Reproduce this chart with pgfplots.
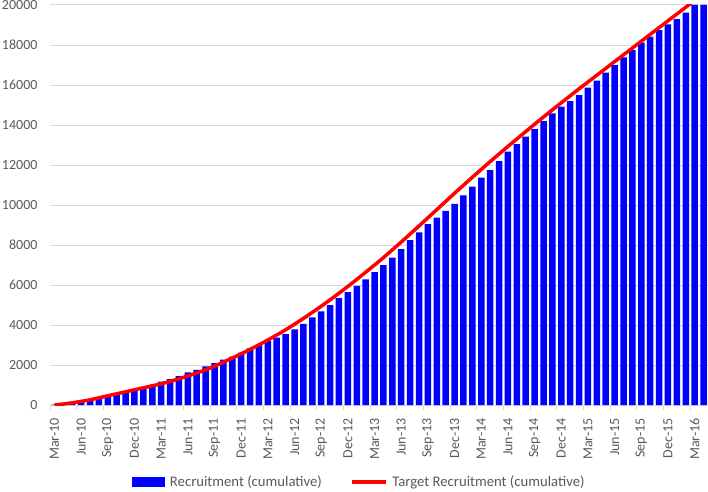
\documentclass[border=0pt]{standalone}
\usepackage{pgfplots}
\pgfplotsset{compat=1.18}
\usepackage{pgfplotstable}
\usepackage{fontspec}
\setmainfont{Carlito}
\usetikzlibrary{calc}
\definecolor{tickgray}{HTML}{595959}
\definecolor{gridgray}{HTML}{D9D9D9}
\definecolor{barblue}{RGB}{0,0,255}
\definecolor{linered}{RGB}{255,0,0}

\pgfplotstableread{
i rec target
0 20 0
1 60 50
2 110 110
3 210 180
4 300 260
5 380 360
6 480 460
7 560 560
8 680 660
9 750 760
10 840 860
11 940 960
12 1170 1060
13 1300 1180
14 1450 1310
15 1630 1450
16 1760 1600
17 1930 1760
18 2100 1940
19 2270 2140
20 2420 2350
21 2620 2560
22 2830 2780
23 3020 3010
24 3200 3250
25 3370 3500
26 3540 3760
27 3780 4040
28 4060 4330
29 4380 4630
30 4680 4940
31 5000 5260
32 5340 5590
33 5650 5930
34 5960 6280
35 6280 6640
36 6640 7000
37 6990 7370
38 7370 7760
39 7800 8150
40 8250 8550
41 8630 8950
42 9040 9360
43 9370 9770
44 9710 10180
45 10060 10590
46 10480 10990
47 10920 11390
48 11370 11780
49 11750 12170
50 12200 12550
51 12670 12930
52 13050 13300
53 13420 13670
54 13800 14040
55 14200 14400
56 14580 14760
57 14920 15110
58 15200 15460
59 15500 15810
60 15870 16150
61 16220 16490
62 16620 16830
63 17000 17170
64 17380 17510
65 17750 17850
66 18120 18190
67 18420 18530
68 18750 18870
69 19030 19210
70 19300 19550
71 19620 19890
72 20000 20230
73 20000 20570
}\data

\begin{document}
\begin{tikzpicture}
\begin{axis}[
  name=ax,
  scale only axis, width=658pt, height=400pt,
  xmin=-0.5, xmax=73.5, ymin=0, ymax=20000,
  axis line style={draw=none},
  ytick={0,2000,...,20000},
  ymajorgrids, grid style={gridgray, line width=1pt},
  scaled y ticks=false,
  /pgf/number format/1000 sep={},
  /pgf/number format/assume math mode=true,
  yticklabel style={text=tickgray, font=\fontsize{14}{16}\selectfont, xshift=-9pt},
  xtick={0,3,...,72},
  xticklabels={Mar-10,Jun-10,Sep-10,Dec-10,Mar-11,Jun-11,Sep-11,Dec-11,Mar-12,Jun-12,Sep-12,Dec-12,Mar-13,Jun-13,Sep-13,Dec-13,Mar-14,Jun-14,Sep-14,Dec-14,Mar-15,Jun-15,Sep-15,Dec-15,Mar-16},
  xticklabel style={rotate=90, anchor=east, inner xsep=13pt, text=tickgray, font=\fontsize{14}{16}\selectfont},
  minor xtick={-0.5,2.5,...,72},
  xtick pos=bottom, ytick pos=left,
  tick align=outside,
  major tick length=0pt,
  minor tick length=5pt,
  minor tick style={gridgray, line width=1pt},
  legend columns=2,
  legend style={at={(0.47,-0.193)}, anchor=center, draw=none, fill=none,
    font=\fontsize{14.7}{16}\selectfont, text=tickgray,
    /tikz/every odd column/.append style={column sep=3pt},
    /tikz/every even column/.append style={column sep=26pt}},
]
\addplot[ybar, bar width=6.5pt, fill=barblue, draw=none,
  legend image code/.code={\fill[barblue] (0pt,-5pt) rectangle (33pt,5pt);}]
  table[x=i, y=rec] {\data};
\addlegendentry{Recruitment (cumulative)}
\addplot[linered, line width=3.5pt, no marks, line join=round, smooth,
  legend image code/.code={\draw[linered, line width=3.5pt] (0pt,0pt) -- (34pt,0pt);}]
  table[x=i, y=target] {\data};
\addlegendentry{Target Recruitment (cumulative)}
\end{axis}
\pgfresetboundingbox
\path ($(ax.south west)+(-50pt,-86pt)$) rectangle ($(ax.south west)+(658pt,405pt)$);
\end{tikzpicture}
\end{document}
